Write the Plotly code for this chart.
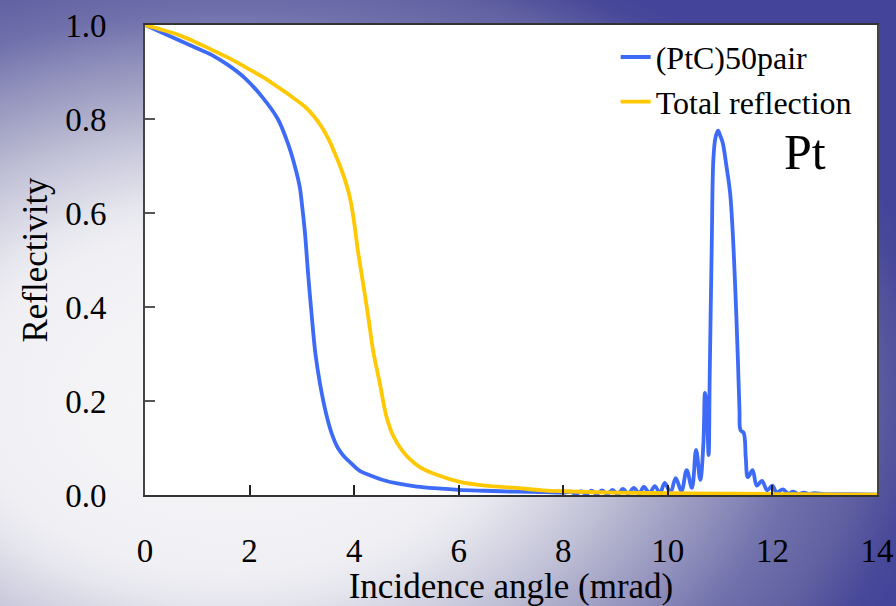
import base64
import plotly.graph_objects as go

# ---------------- data ----------------
ptc_x = [0, 0.32, 0.64, 0.96, 1.28, 1.6, 1.91, 2.24, 2.54, 2.73, 2.87, 2.96, 3.01, 3.06, 3.12,
         3.19, 3.26, 3.35, 3.48, 3.58, 3.69, 3.8, 3.92, 4.1, 4.3, 4.55, 4.85, 5.2, 5.6, 6.0, 6.5,
         7.1, 7.6, 8.0, 8.14, 8.24, 8.34, 8.44, 8.54, 8.64, 8.74, 8.84, 8.94, 9.04, 9.14, 9.24,
         9.35, 9.45, 9.54, 9.65, 9.75, 9.85, 9.94, 10.05, 10.15, 10.26, 10.36, 10.46, 10.54,
         10.62, 10.68, 10.71, 10.74, 10.78, 10.8, 10.84, 10.87, 10.91, 10.96, 11.0, 11.05,
         11.12, 11.19, 11.24, 11.28, 11.31, 11.34, 11.37, 11.39, 11.45, 11.49, 11.53, 11.62,
         11.7, 11.8, 11.9, 12.0, 12.08, 12.2, 12.3, 12.4, 12.5, 12.6, 12.7, 12.8, 13.0, 13.5, 14.0]
ptc_y = [1.0, 0.984, 0.968, 0.952, 0.936, 0.914, 0.887, 0.847, 0.80, 0.749, 0.698, 0.655, 0.61,
         0.557, 0.47, 0.38, 0.30, 0.235, 0.166, 0.128, 0.100, 0.083, 0.07, 0.052, 0.042, 0.032,
         0.024, 0.018, 0.014, 0.011, 0.009, 0.007, 0.006, 0.005, 0.007, 0.002, 0.008, 0.002, 0.009,
         0.002, 0.010, 0.002, 0.011, 0.002, 0.013, 0.003, 0.015, 0.003, 0.017, 0.004, 0.019, 0.004,
         0.026, 0.005, 0.036, 0.008, 0.053, 0.015, 0.096, 0.032, 0.11, 0.217, 0.19, 0.085, 0.25,
         0.536, 0.713, 0.76, 0.775, 0.765, 0.749, 0.70, 0.643, 0.56, 0.464, 0.38, 0.287, 0.18,
         0.138, 0.132, 0.08, 0.038, 0.053, 0.02, 0.03, 0.01, 0.02, 0.005, 0.012, 0.003, 0.007,
         0.002, 0.005, 0.002, 0.004, 0.002, 0.002, 0.001]

tot_x = [0, 0.32, 0.64, 0.96, 1.28, 1.6, 1.91, 2.24, 2.54, 2.8, 3.06, 3.23, 3.38, 3.52, 3.63,
         3.73, 3.82, 3.92, 4.0, 4.07, 4.17, 4.27, 4.36, 4.49, 4.62, 4.75, 4.91, 5.05, 5.25, 5.58,
         6.02, 6.5, 7.1, 7.6, 8.0, 9.0, 10.0, 11.0, 12.0, 13.0, 14.0]
tot_y = [1.0, 0.99, 0.979, 0.964, 0.947, 0.93, 0.911, 0.89, 0.868, 0.848, 0.826, 0.806, 0.783,
         0.755, 0.727, 0.70, 0.672, 0.632, 0.58, 0.521, 0.451, 0.379, 0.309, 0.238, 0.166, 0.125,
         0.096, 0.078, 0.06, 0.043, 0.028, 0.02, 0.015, 0.01, 0.008, 0.005, 0.004, 0.003, 0.002,
         0.0015, 0.001]

x_ticks = [0, 2, 4, 6, 8, 10, 12, 14]
y_ticks = [0.0, 0.2, 0.4, 0.6, 0.8, 1.0]

FONT = "Liberation Serif"
BLUE = "#3d6bf7"
YELLOW = "#ffc800"

# ---------------- background gradient ----------------
svg = """<svg xmlns='http://www.w3.org/2000/svg' width='896' height='606'>
<defs><radialGradient id='g' gradientUnits='objectBoundingBox' cx='0.257' cy='0.66' r='0.8'>
<stop offset='0' stop-color='#f8f8fa'/>
<stop offset='0.35' stop-color='#f0f0f4'/>
<stop offset='0.42' stop-color='#e6e6ee'/>
<stop offset='0.54' stop-color='#c6c6da'/>
<stop offset='0.62' stop-color='#acacca'/>
<stop offset='0.72' stop-color='#8c8cba'/>
<stop offset='0.8' stop-color='#7070ac'/>
<stop offset='0.88' stop-color='#6262a2'/>
<stop offset='0.96' stop-color='#4a4a9a'/>
<stop offset='1' stop-color='#44449a'/>
</radialGradient></defs>
<rect width='896' height='606' fill='url(#g)'/></svg>"""
src = "data:image/svg+xml;base64," + base64.b64encode(svg.encode()).decode()

W, H = 896, 606
ML, MR, MT, MB = 145, 19, 25, 111
PW, PH = W - ML - MR, H - MT - MB

fig = go.Figure()
fig.add_trace(go.Scatter(x=ptc_x, y=ptc_y, mode="lines", name="(PtC)50pair",
                         line=dict(color=BLUE, width=3.8, shape="spline", smoothing=1.0)))
fig.add_trace(go.Scatter(x=tot_x, y=tot_y, mode="lines", name="Total reflection",
                         line=dict(color=YELLOW, width=3.8, shape="spline", smoothing=1.0)))

fig.add_annotation(x=12.62, y=0.73, text="Pt", showarrow=False,
                   font=dict(family=FONT, size=50, color="black"))

# white plotting area above the gradient picture
fig.add_shape(type="rect", xref="paper", yref="paper", x0=0, x1=1, y0=0, y1=1,
              fillcolor="white", line=dict(width=0), layer="below")

fig.update_layout(
    width=W, height=H,
    margin=dict(l=ML, r=MR, t=MT, b=MB, autoexpand=False),
    paper_bgcolor="rgba(0,0,0,0)",
    plot_bgcolor="white",
    font=dict(family=FONT, color="black"),
    images=[dict(source=src, xref="paper", yref="paper", x=-ML / PW, y=1 + MT / PH,
                 sizex=W / PW, sizey=H / PH, sizing="stretch", layer="below",
                 xanchor="left", yanchor="top")],
    legend=dict(x=0.643, y=0.99, xanchor="left", yanchor="top",
                bgcolor="rgba(0,0,0,0)", font=dict(family=FONT, size=32, color="black"),
                tracegroupgap=0),
    xaxis=dict(range=[0, 14], tickvals=x_ticks, ticktext=[str(v) for v in x_ticks],
               ticks="inside", ticklen=10, tickwidth=1.5, tickcolor="#222",
               showgrid=False, zeroline=False, showline=True, linecolor="#333",
               linewidth=2, mirror=True, ticklabelstandoff=25, automargin=False,
               tickfont=dict(family=FONT, size=33, color="black"),
               title=dict(text="Incidence angle (mrad)", standoff=3,
                          font=dict(family=FONT, size=35, color="black"))),
    yaxis=dict(range=[0, 1], tickvals=y_ticks, ticktext=[f"{v:.1f}" for v in y_ticks],
               ticks="inside", ticklen=10, tickwidth=1.5, tickcolor="#555",
               showgrid=False, zeroline=False, showline=True, linecolor="#444",
               linewidth=2, mirror=True, ticklabelstandoff=30, automargin=False,
               tickfont=dict(family=FONT, size=33, color="black"),
               title=dict(text="Reflectivity", standoff=7,
                          font=dict(family=FONT, size=35, color="black"))),
)

fig.write_html("out.html")
